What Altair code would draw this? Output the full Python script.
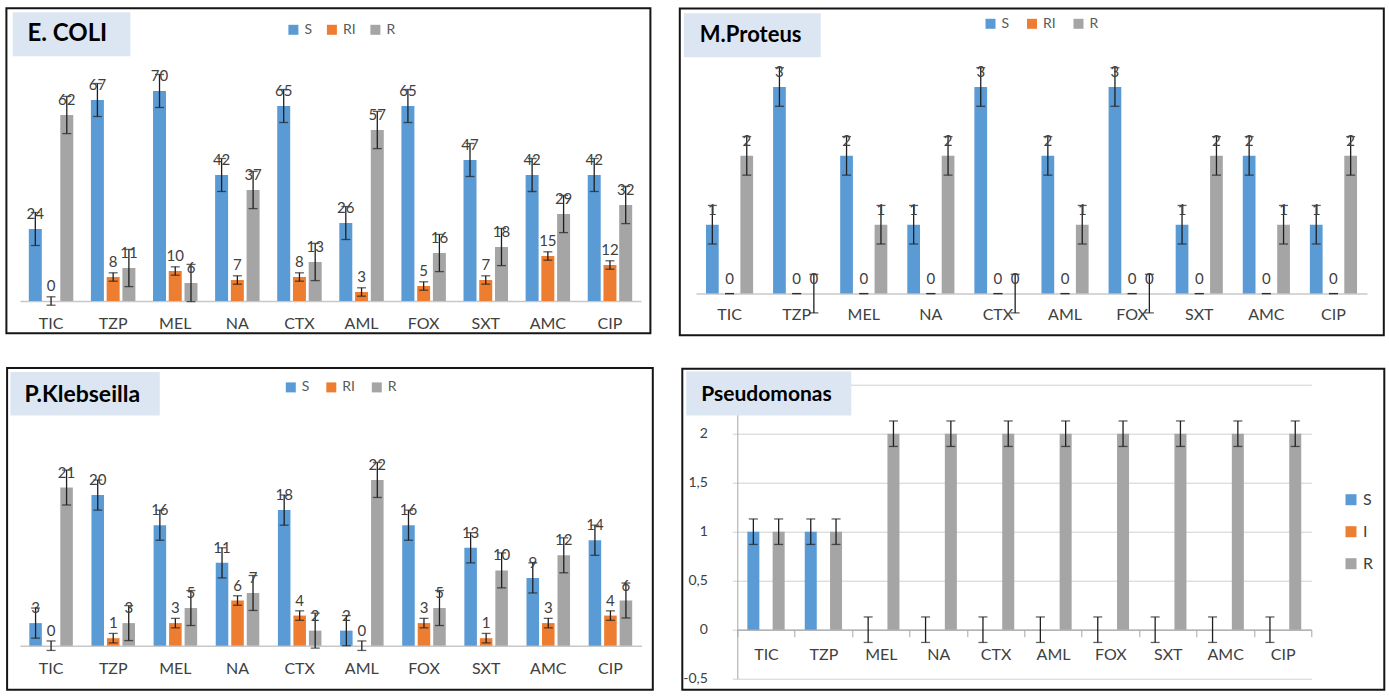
import altair as alt
import pandas as pd

DRUGS = ["TIC", "TZP", "MEL", "NA", "CTX", "AML", "FOX", "SXT", "AMC", "CIP"]
SERIES_A = ["S", "RI", "R"]
SERIES_B = ["S", "I", "R"]
COLORS = ["#5b9bd5", "#ed7d31", "#a5a5a5"]

# E. COLI
ECOLI_S = [24, 67, 70, 42, 65, 26, 65, 47, 42, 42]
ECOLI_RI = [0, 8, 10, 7, 8, 3, 5, 7, 15, 12]
ECOLI_R = [62, 11, 6, 37, 13, 57, 16, 18, 29, 32]
ECOLI_ERR = [5.5, 1.4, 6.2]

# M.Proteus
PROTEUS_S = [1, 3, 2, 1, 3, 2, 3, 1, 2, 1]
PROTEUS_RI = [0, 0, 0, 0, 0, 0, 0, 0, 0, 0]
PROTEUS_R = [2, 0, 1, 2, 0, 1, 0, 2, 1, 2]
PROTEUS_ERR = [0.28, 0.0, 0.28]

# P.Klebseilla
KLEBS_S = [3, 20, 16, 11, 18, 2, 16, 13, 9, 14]
KLEBS_RI = [0, 1, 3, 6, 4, 0, 3, 1, 3, 4]
KLEBS_R = [21, 3, 5, 7, 2, 22, 5, 10, 12, 6]
KLEBS_ERR = [2.0, 0.63, 2.32]

# Pseudomonas
PSEUDO_S = [1, 1, 0, 0, 0, 0, 0, 0, 0, 0]
PSEUDO_I = [0, 0, 0, 0, 0, 0, 0, 0, 0, 0]
PSEUDO_R = [1, 1, 2, 2, 2, 2, 2, 2, 2, 2]
PSEUDO_ERR = [0.13, None, 0.13]
PSEUDO_TICKS = [-0.5, 0, 0.5, 1, 1.5, 2, 2.5]

FONT = "Lato"
TXT = "#404040"


def make_df(series, lists, errs):
    rows = []
    for s, vals, e in zip(series, lists, errs):
        for d, v in zip(DRUGS, vals):
            rows.append({"drug": d, "series": s, "value": v,
                         "lo": None if e is None else v - e,
                         "hi": None if e is None else v + e,
                         "has_err": e is not None})
    return pd.DataFrame(rows)


def panel(df, series, width, height, ydom, pi, po, frame, tbox, title, tpos, tsize,
          legend, xaxis, yaxis=None, labels=True):
    one = alt.Data(values=[{"k": 1}])
    xs = alt.X("drug:N", sort=DRUGS, title=None,
               scale=alt.Scale(domain=DRUGS, paddingInner=0, paddingOuter=0), axis=xaxis)
    xo = alt.XOffset("series:N", sort=series,
                     scale=alt.Scale(domain=series, paddingInner=pi, paddingOuter=po))

    def yy(field):
        return alt.Y(f"{field}:Q", title=None,
                     scale=alt.Scale(domain=ydom, nice=False, zero=False),
                     axis=yaxis)

    frame_l = alt.Chart(one).mark_rect(fill="transparent", stroke="#151515", strokeWidth=2).encode(
        x=alt.value(frame[0]), x2=alt.value(frame[2]), y=alt.value(frame[1]), y2=alt.value(frame[3]))
    bars = alt.Chart(df).mark_bar().encode(
        x=xs, xOffset=xo, y=yy("value"),
        color=alt.Color("series:N", sort=series,
                        scale=alt.Scale(domain=series, range=COLORS), legend=legend))
    edf = df[df["has_err"]]
    rule = alt.Chart(edf).mark_rule(color="#1f1f1f", strokeWidth=1.3).encode(
        x=xs, xOffset=xo, y=yy("lo"), y2="hi:Q")
    cap_lo = alt.Chart(edf).mark_tick(orient="horizontal", color="#1f1f1f", thickness=1.3, size=9).encode(
        x=xs, xOffset=xo, y=yy("lo"))
    cap_hi = alt.Chart(edf).mark_tick(orient="horizontal", color="#1f1f1f", thickness=1.3, size=9).encode(
        x=xs, xOffset=xo, y=yy("hi"))
    box = alt.Chart(one).mark_rect(fill="#dce6f2").encode(
        x=alt.value(tbox[0]), x2=alt.value(tbox[2]), y=alt.value(tbox[1]), y2=alt.value(tbox[3]))
    ttl = alt.Chart(one).mark_text(align="left", baseline="middle", font=FONT, fontWeight="bold",
                                   fontSize=tsize, color="#000000").encode(
        x=alt.value(tpos[0]), y=alt.value(tpos[1]), text=alt.value(title))
    layers = [frame_l, bars, rule, cap_lo, cap_hi]
    if labels:
        lab = alt.Chart(df).mark_text(baseline="alphabetic", dy=-10, font=FONT, fontSize=15,
                                      color=TXT).encode(
            x=xs, xOffset=xo, y=yy("value"), text=alt.Text("value:Q", format="d"))
        layers.append(lab)
    layers += [box, ttl]
    return alt.layer(*layers).properties(width=width, height=height)


def hlegend(lx, ly, cp):
    return alt.Legend(orient="none", legendX=lx, legendY=ly, direction="horizontal", columns=3,
                      title=None, symbolType="square", symbolSize=100, symbolStrokeWidth=0,
                      labelFont=FONT, labelFontSize=14, labelColor="#595959",
                      columnPadding=cp, labelOffset=4, padding=0)


def xaxis_plain(lp):
    return alt.Axis(domainColor="#c8c8c8", domainWidth=1.5, ticks=False, labelPadding=lp,
                    labelFont=FONT, labelFontSize=16, labelColor=TXT, labelAngle=0, grid=False)


# row 1: both plot areas start at the same height
p1 = panel(make_df(SERIES_A, [ECOLI_S, ECOLI_RI, ECOLI_R], ECOLI_ERR), SERIES_A,
           621, 240, [0, 80], 0.175, 0.56,
           (-13.6, -52.7, 630.4, 272.3), (-7.3, -48.7, 110.4, -4.7),
           "E. COLI", (7.4, -26.7), 24, hlegend(266.4, -38.2, 12.5), xaxis_plain(14))

p2 = panel(make_df(SERIES_A, [PROTEUS_S, PROTEUS_RI, PROTEUS_R], PROTEUS_ERR), SERIES_A,
           671, 232.6, [0, 3.3775], 0.26, 0.58,
           (-16.2, -52.4, 687.8, 274.3), (-12.2, -47.7, 124.8, -3.7),
           "M.Proteus", (3.8, -25.7), 22, hlegend(287.5, -44.2, 15.5), xaxis_plain(13))

# row 2: both plot areas start at the same height
p3 = panel(make_df(SERIES_A, [KLEBS_S, KLEBS_RI, KLEBS_R], KLEBS_ERR), SERIES_A,
           621.5, 261, [0, 34.65], 0.19, 0.6,
           (-12.9, -16.6, 632.8, 305), (-9.6, -12.6, 139.8, 30.7),
           "P.Klebseilla", (4.4, 10), 23, hlegend(263.8, -4.3, 14.5), xaxis_plain(15))

p4_legend = alt.Legend(orient="none", legendX=605.7, legendY=107, direction="vertical", columns=1,
                       title=None, symbolType="square", symbolSize=121, symbolStrokeWidth=0,
                       labelFont=FONT, labelFontSize=16, labelColor=TXT, rowPadding=16,
                       labelOffset=4, padding=0)
p4_x = alt.Axis(offset=-49, domainColor="#a6a6a6", domainWidth=1.2, ticks=True, tickBand="extent",
                tickSize=7, tickColor="#a6a6a6", labelPadding=9.5, labelFont=FONT, labelFontSize=16,
                labelColor=TXT, labelAngle=0, grid=False)
p4_y = alt.Axis(values=PSEUDO_TICKS,
                labelExpr="datum.value >= 2.5 ? '' : replace(replace(format(datum.value, '~g'), '.', ','), '\u2212', '-')",
                grid=True, gridColor="#d0d0d0", domainColor="#a6a6a6", tickColor="#d0d0d0",
                tickSize=5, labelPadding=25, labelFont=FONT, labelFontSize=14, labelColor=TXT)
p4 = panel(make_df(SERIES_B, [PSEUDO_S, PSEUDO_I, PSEUDO_R], PSEUDO_ERR), SERIES_B,
           574, 294, [-0.5, 2.5], 0.05, 0.795,
           (-55, -16, 647, 305), (-51, -13.3, 114, 30.7),
           "Pseudomonas", (-36, 10), 21, p4_legend, p4_x, yaxis=p4_y, labels=False)

RES = dict(x="independent", y="independent", color="independent", xOffset="independent")

row1 = alt.hconcat(p1, p2, spacing=26).resolve_scale(**RES).resolve_legend(color="independent")
row2 = alt.hconcat(p3, p4, spacing=27.3).resolve_scale(**RES).resolve_legend(color="independent")

chart = (alt.vconcat(row1, row2, spacing=29.7)
         .resolve_scale(**RES).resolve_legend(color="independent")
         .properties(padding={"left": 5, "top": 7, "right": 0, "bottom": 0}, background="white")
         .configure_view(strokeWidth=0))

chart.save("out.html", embed_options={"renderer": "svg", "actions": False})
